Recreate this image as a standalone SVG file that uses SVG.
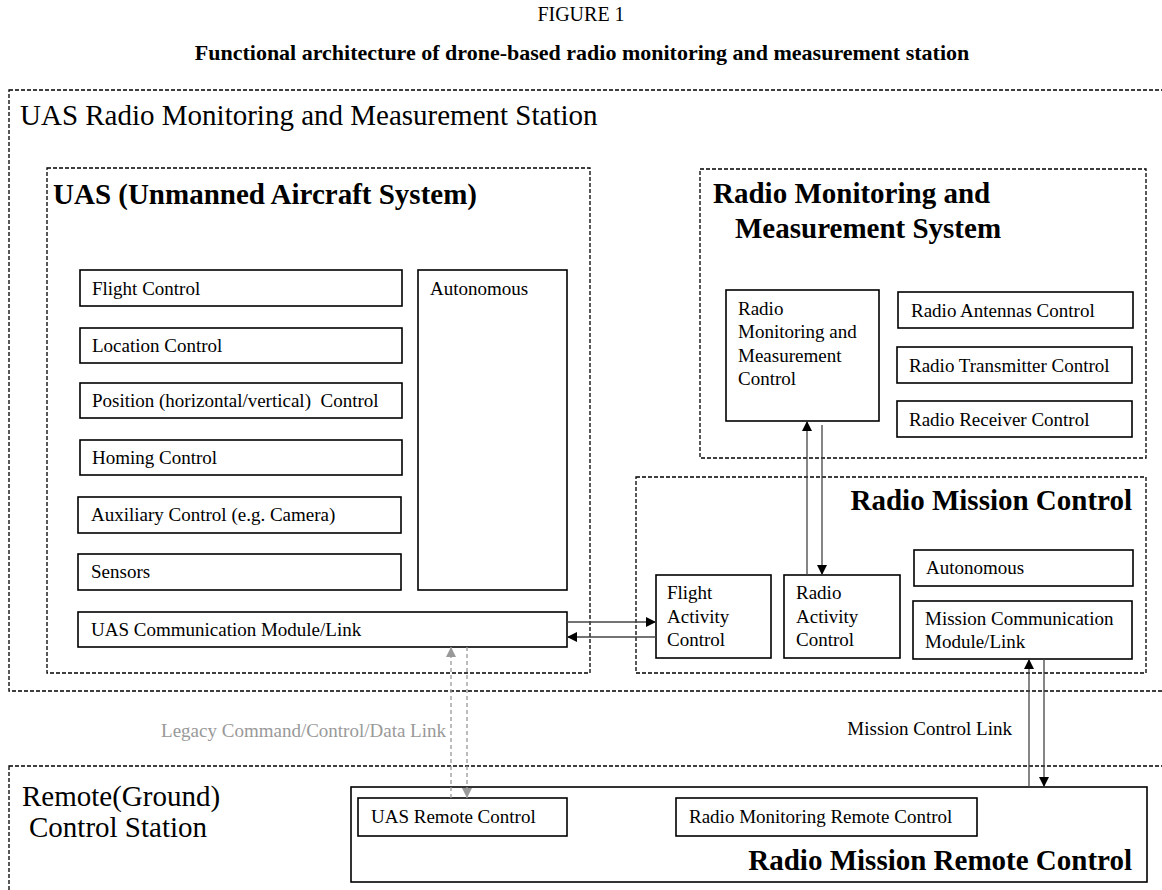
<svg xmlns="http://www.w3.org/2000/svg" width="1162" height="890" viewBox="0 0 1162 890">
<defs>
<style>
.t{font-family:"Liberation Serif","Times New Roman",serif;fill:#000}
.s{font-size:19px}
.h{font-size:29px;font-weight:bold}
.big{font-size:29px}
.box{fill:#fff;stroke:#000;stroke-width:1.6}
.dash{fill:none;stroke:#000;stroke-width:1.3;stroke-dasharray:4 2}
.ln{fill:none;stroke:#444;stroke-width:1.3}
.gl{fill:none;stroke:#999;stroke-width:1.3;stroke-dasharray:4 3}
</style>
<marker id="ah" viewBox="0 0 10 10" refX="10" refY="5" markerWidth="11" markerHeight="10" markerUnits="userSpaceOnUse" orient="auto"><path d="M0,0 L10,5 L0,10 z" fill="#000"/></marker>
<marker id="ahg" viewBox="0 0 10 10" refX="10" refY="5" markerWidth="11" markerHeight="10" markerUnits="userSpaceOnUse" orient="auto"><path d="M0,0 L10,5 L0,10 z" fill="#999"/></marker>
</defs>
<rect width="1162" height="890" fill="#fff"/>
<g id="titles">
<text class="t" x="581" y="21" text-anchor="middle" font-size="20">FIGURE 1</text>
<text class="t" x="582" y="60" text-anchor="middle" font-size="22" font-weight="bold">Functional architecture of drone-based radio monitoring and measurement station</text>
</g>
<g id="station">
<rect class="dash" x="9" y="90" width="1170" height="601"/>
<text class="t big" x="20" y="125">UAS Radio Monitoring and Measurement Station</text>
</g>
<g id="uas">
<rect class="dash" x="47" y="168" width="543" height="505"/>
<text class="t h" x="53" y="204">UAS (Unmanned Aircraft System)</text>
</g>
<g id="flight-control"><rect class="box" x="80" y="270" width="322" height="36"/><text class="t s" x="92" y="295">Flight Control</text></g>
<g id="location-control"><rect class="box" x="80" y="328" width="322" height="35"/><text class="t s" x="92" y="352">Location Control</text></g>
<g id="position-control"><rect class="box" x="80" y="383" width="322" height="35"/><text class="t s" x="92" y="407" xml:space="preserve">Position (horizontal/vertical)  Control</text></g>
<g id="homing-control"><rect class="box" x="80" y="440" width="322" height="35"/><text class="t s" x="92" y="464">Homing Control</text></g>
<g id="auxiliary-control"><rect class="box" x="78" y="497" width="323" height="36"/><text class="t s" x="91" y="521">Auxiliary Control (e.g. Camera)</text></g>
<g id="sensors"><rect class="box" x="78" y="554" width="323" height="36"/><text class="t s" x="91" y="578">Sensors</text></g>
<g id="uas-autonomous"><rect class="box" x="418" y="270" width="149" height="320"/><text class="t s" x="430" y="295">Autonomous</text></g>
<g id="uas-comm"><rect class="box" x="78" y="612" width="489" height="35"/><text class="t s" x="91" y="636">UAS Communication Module/Link</text></g>
<g id="rmms">
<rect class="dash" x="700" y="169" width="446" height="289"/>
<text class="t h" x="713" y="203">Radio Monitoring and</text>
<text class="t h" x="735" y="238">Measurement System</text>
</g>
<g id="rmm-control"><rect class="box" x="726" y="290" width="153" height="131"/>
<text class="t s" x="738" y="315">Radio</text>
<text class="t s" x="738" y="338">Monitoring and</text>
<text class="t s" x="738" y="362">Measurement</text>
<text class="t s" x="738" y="385">Control</text></g>
<g id="antennas"><rect class="box" x="898" y="292" width="235" height="36"/><text class="t s" x="911" y="317">Radio Antennas Control</text></g>
<g id="transmitter"><rect class="box" x="897" y="347" width="235" height="36"/><text class="t s" x="909" y="372">Radio Transmitter Control</text></g>
<g id="receiver"><rect class="box" x="897" y="401" width="235" height="36"/><text class="t s" x="909" y="426">Radio Receiver Control</text></g>
<g id="rmc">
<rect class="dash" x="636" y="477" width="510" height="196"/>
<text class="t h" x="1132" y="510" text-anchor="end">Radio Mission Control</text>
</g>
<g id="flight-activity"><rect class="box" x="656" y="575" width="115" height="83"/>
<text class="t s" x="667" y="599">Flight</text><text class="t s" x="667" y="623">Activity</text><text class="t s" x="667" y="646">Control</text></g>
<g id="radio-activity"><rect class="box" x="784" y="575" width="116" height="83"/>
<text class="t s" x="796" y="599">Radio</text><text class="t s" x="796" y="623">Activity</text><text class="t s" x="796" y="646">Control</text></g>
<g id="rmc-autonomous"><rect class="box" x="914" y="550" width="219" height="36"/><text class="t s" x="926" y="574">Autonomous</text></g>
<g id="mission-comm"><rect class="box" x="913" y="601" width="219" height="58"/>
<text class="t s" x="925" y="625">Mission Communication</text><text class="t s" x="925" y="648">Module/Link</text></g>
<g id="ground">
<rect class="dash" x="9" y="766" width="1170" height="140"/>
<text class="t big" x="22" y="806">Remote(Ground)</text>
<text class="t big" x="29" y="837">Control Station</text>
</g>
<g id="rmrc"><rect class="box" x="351" y="787" width="796" height="95"/>
<text class="t h" x="1132" y="870" text-anchor="end">Radio Mission Remote Control</text></g>
<g id="uas-remote"><rect class="box" x="358" y="798" width="209" height="38"/><text class="t s" x="371" y="823">UAS Remote Control</text></g>
<g id="rm-remote"><rect class="box" x="676" y="798" width="301" height="38"/><text class="t s" x="689" y="823">Radio Monitoring Remote Control</text></g>
<g id="connectors">
<line class="ln" x1="567" y1="622" x2="656" y2="622" marker-end="url(#ah)"/>
<line class="ln" x1="656" y1="637" x2="567" y2="637" marker-end="url(#ah)"/>
<line class="ln" x1="807" y1="575" x2="807" y2="421" stroke="#000" marker-end="url(#ah)"/>
<line class="ln" x1="822" y1="425" x2="822" y2="575" stroke="#000" marker-end="url(#ah)"/>
<line class="gl" x1="451" y1="798" x2="451" y2="647" marker-end="url(#ahg)"/>
<line class="gl" x1="467" y1="647" x2="467" y2="798" marker-end="url(#ahg)"/>
<line class="ln" x1="1029" y1="787" x2="1029" y2="659" stroke="#777" marker-end="url(#ah)"/>
<line class="ln" x1="1044" y1="659" x2="1044" y2="787" stroke="#000" marker-end="url(#ah)"/>
<text class="t s" x="446" y="737" text-anchor="end" fill="#999" style="fill:#999">Legacy Command/Control/Data Link</text>
<text class="t s" x="1012" y="735" text-anchor="end">Mission Control Link</text>
</g>
</svg>
